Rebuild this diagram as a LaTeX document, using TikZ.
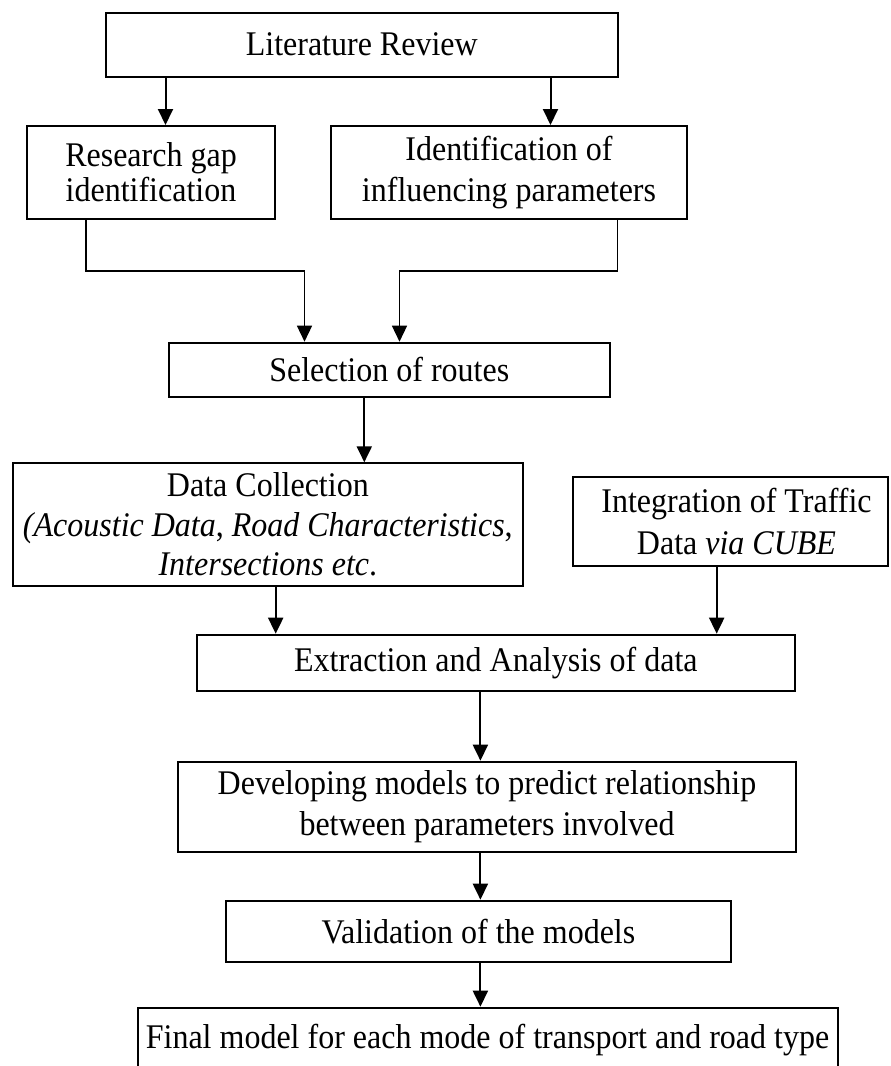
\documentclass[tikz,border=0pt]{standalone}
\usepackage{graphicx}
\usepackage{fontspec}
\setmainfont{Liberation Serif}
\usetikzlibrary{arrows.meta}
\newcommand{\ys}[1]{\scalebox{1}[1.08]{#1}}
\begin{document}
\begin{tikzpicture}[x=0.5pt,y=-0.5pt,
  box/.style={draw, line width=1pt, inner sep=0pt, align=center, font=\fontsize{16pt}{19.5pt}\selectfont},
  arr/.style={-{Triangle[length=8pt,width=7.5pt]}, line width=1pt},
  elb/.style={-{Triangle[length=8pt,width=7.5pt]}, line width=0.7pt},
]
\useasboundingbox (0,0) rectangle (890,1066);

\node[box, minimum width=256.25pt, minimum height=32pt] (lit) at (361.75,44.5) {\ys{Literature Review}};
\node[box, minimum width=124pt, minimum height=46.5pt, font=\fontsize{16pt}{17.5pt}\selectfont] (gap) at (151,172.5) {\ys{Research gap}\\\ys{identification}};
\node[box, minimum width=178pt, minimum height=46.5pt, font=\fontsize{16pt}{20.5pt}\selectfont] (ident) at (509,172.5) {\ys{Identification of}\\\ys{influencing parameters}};
\node[box, minimum width=220.75pt, minimum height=27.15pt] (sel) at (389.25,369.85) {\ys{Selection of routes}};
\node[box, minimum width=255.15pt, minimum height=61.2pt, font=\fontsize{16pt}{19.75pt}\selectfont] (data) at (267.85,524.5) {\ys{Data Collection}\\\ys{\textit{(Acoustic Data}, \textit{Road Characteristics},}\\\ys{\textit{Intersections etc}.}};
\node[box, minimum width=157.5pt, minimum height=44.65pt, font=\fontsize{16pt}{21pt}\selectfont] (integ) at (730.5,521.35) {\hspace*{6pt}\ys{Integration of Traffic}\\\hspace*{6pt}\ys{Data \textit{via CUBE}}};
\node[box, minimum width=299.15pt, minimum height=28pt] (ext) at (495.85,662.7) {\ys{Extraction and Analysis of data}};
\node[box, minimum width=309pt, minimum height=45.15pt, font=\fontsize{16pt}{20.5pt}\selectfont] (dev) at (487,806.85) {\ys{Developing models to predict relationship}\\\ys{between parameters involved}};
\node[box, minimum width=252.6pt, minimum height=30.5pt] (val) at (478.4,931.2) {\ys{Validation of the models}};
\node[box, anchor=north, minimum width=350pt, inner ysep=8pt] (final) at (487.5,1006.7) {\ys{Final model for each mode of transport and road type}};

% x positions of connectors
\coordinate (xa) at (165.5,0);
\coordinate (xb) at (550.5,0);
\coordinate (xc) at (86,0);
\coordinate (xd) at (304.5,0);
\coordinate (xe) at (617.5,0);
\coordinate (xf) at (399.5,0);
\coordinate (xg) at (364.3,0);
\coordinate (xh) at (275.7,0);
\coordinate (xi) at (716.7,0);
\coordinate (xj) at (480.4,0);
\coordinate (yb) at (0,271);

\draw[arr] (lit.south -| xa) -- (gap.north -| xa);
\draw[arr] (lit.south -| xb) -- (ident.north -| xb);
\draw[elb] (gap.south -| xc) -- (xc |- yb) -- (xd |- yb) -- (sel.north -| xd);
\draw[elb] (ident.south -| xe) -- (xe |- yb) -- (xf |- yb) -- (sel.north -| xf);
\draw[arr] (sel.south -| xg) -- (data.north -| xg);
\draw[arr] (data.south -| xh) -- (ext.north -| xh);
\draw[arr] (integ.south -| xi) -- (ext.north -| xi);
\draw[arr] (ext.south -| xj) -- (dev.north -| xj);
\draw[arr] (dev.south -| xj) -- (val.north -| xj);
\draw[arr] (val.south -| xj) -- (final.north -| xj);
\end{tikzpicture}
\end{document}
